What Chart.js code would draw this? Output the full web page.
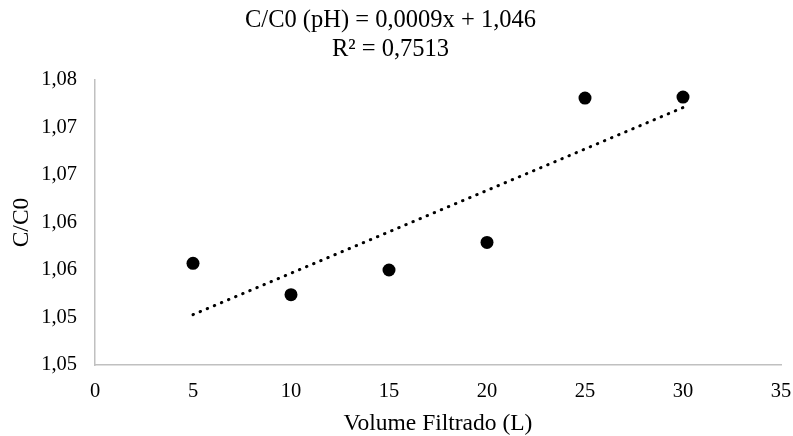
<!DOCTYPE html>
<html>
<head>
<meta charset="utf-8">
<script src="https://cdn.jsdelivr.net/npm/chart.js@4"></script>
<style>
  html, body { margin: 0; padding: 0; background: #fff; }
</style>
</head>
<body>
<canvas id="grafico" width="793" height="436"></canvas>
<script>
// valores
const volumes = [5, 10, 15, 20, 25, 30];
const razaoC = [1.0557, 1.0524, 1.0550, 1.0579, 1.0731, 1.0732];

// extremos da linha de tendência pontilhada
const tendenciaX = [5, 30];
const tendenciaY = [1.0503, 1.0721];

const titulo = ['C/C0 (pH) = 0,0009x + 1,046', 'R² = 0,7513'];
const yTickLabels = ['1,05', '1,05', '1,06', '1,06', '1,07', '1,07', '1,08'];

const pontos = volumes.map((v, i) => ({ x: v, y: razaoC[i] }));
const tendencia = tendenciaX.map((v, i) => ({ x: v, y: tendenciaY[i] }));

Chart.defaults.font.family = "'Liberation Serif', 'Times New Roman', serif";
Chart.defaults.color = '#000';

const ctx = document.getElementById('grafico').getContext('2d');
new Chart(ctx, {
  type: 'scatter',
  data: {
    datasets: [{
      label: 'C/C0',
      data: pontos,
      backgroundColor: '#000',
      borderColor: '#000',
      borderWidth: 0,
      pointRadius: 6.5,
      order: 1
    }, {
      type: 'line',
      label: 'Linear',
      data: tendencia,
      borderColor: '#000',
      borderWidth: 3,
      borderDash: [0.5, 7.2],
      borderCapStyle: 'round',
      pointRadius: 0,
      fill: false,
      order: 2
    }]
  },
  options: {
    responsive: false,
    animation: false,
    layout: { padding: { left: 0, right: 12, top: 0, bottom: 0 } },
    plugins: {
      legend: { display: false },
      tooltip: { enabled: false },
      title: {
        display: true,
        text: titulo,
        color: '#000',
        font: { size: 24.5, weight: 'normal', lineHeight: 29 / 24.5 },
        padding: { top: 6.5, bottom: 15.5 }
      }
    },
    scales: {
      x: {
        type: 'linear',
        min: 0,
        max: 35,
        ticks: { stepSize: 5, padding: 14, font: { size: 20.5 }, color: '#000' },
        grid: { display: false, drawTicks: false },
        border: { display: true, color: '#c0c0c0', width: 1.5 },
        title: { display: true, text: 'Volume Filtrado (L)', font: { size: 23.5, lineHeight: 1 }, padding: { top: 0, bottom: 0 } },
        afterFit: s => { s.height = 71; s.paddingRight = 0; }
      },
      y: {
        min: 1.045,
        max: 1.075,
        ticks: {
          stepSize: 0.005,
          padding: 18,
          font: { size: 20.5 },
          color: '#000',
          callback: (value, index) => yTickLabels[index]
        },
        grid: { display: false, drawTicks: false },
        border: { display: true, color: '#c0c0c0', width: 1.5 },
        title: { display: true, text: 'C/C0', font: { size: 23.5 }, padding: { top: 7.5, bottom: 0 } },
        afterFit: s => { s.width = 95; }
      }
    }
  }
});
</script>
</body>
</html>
